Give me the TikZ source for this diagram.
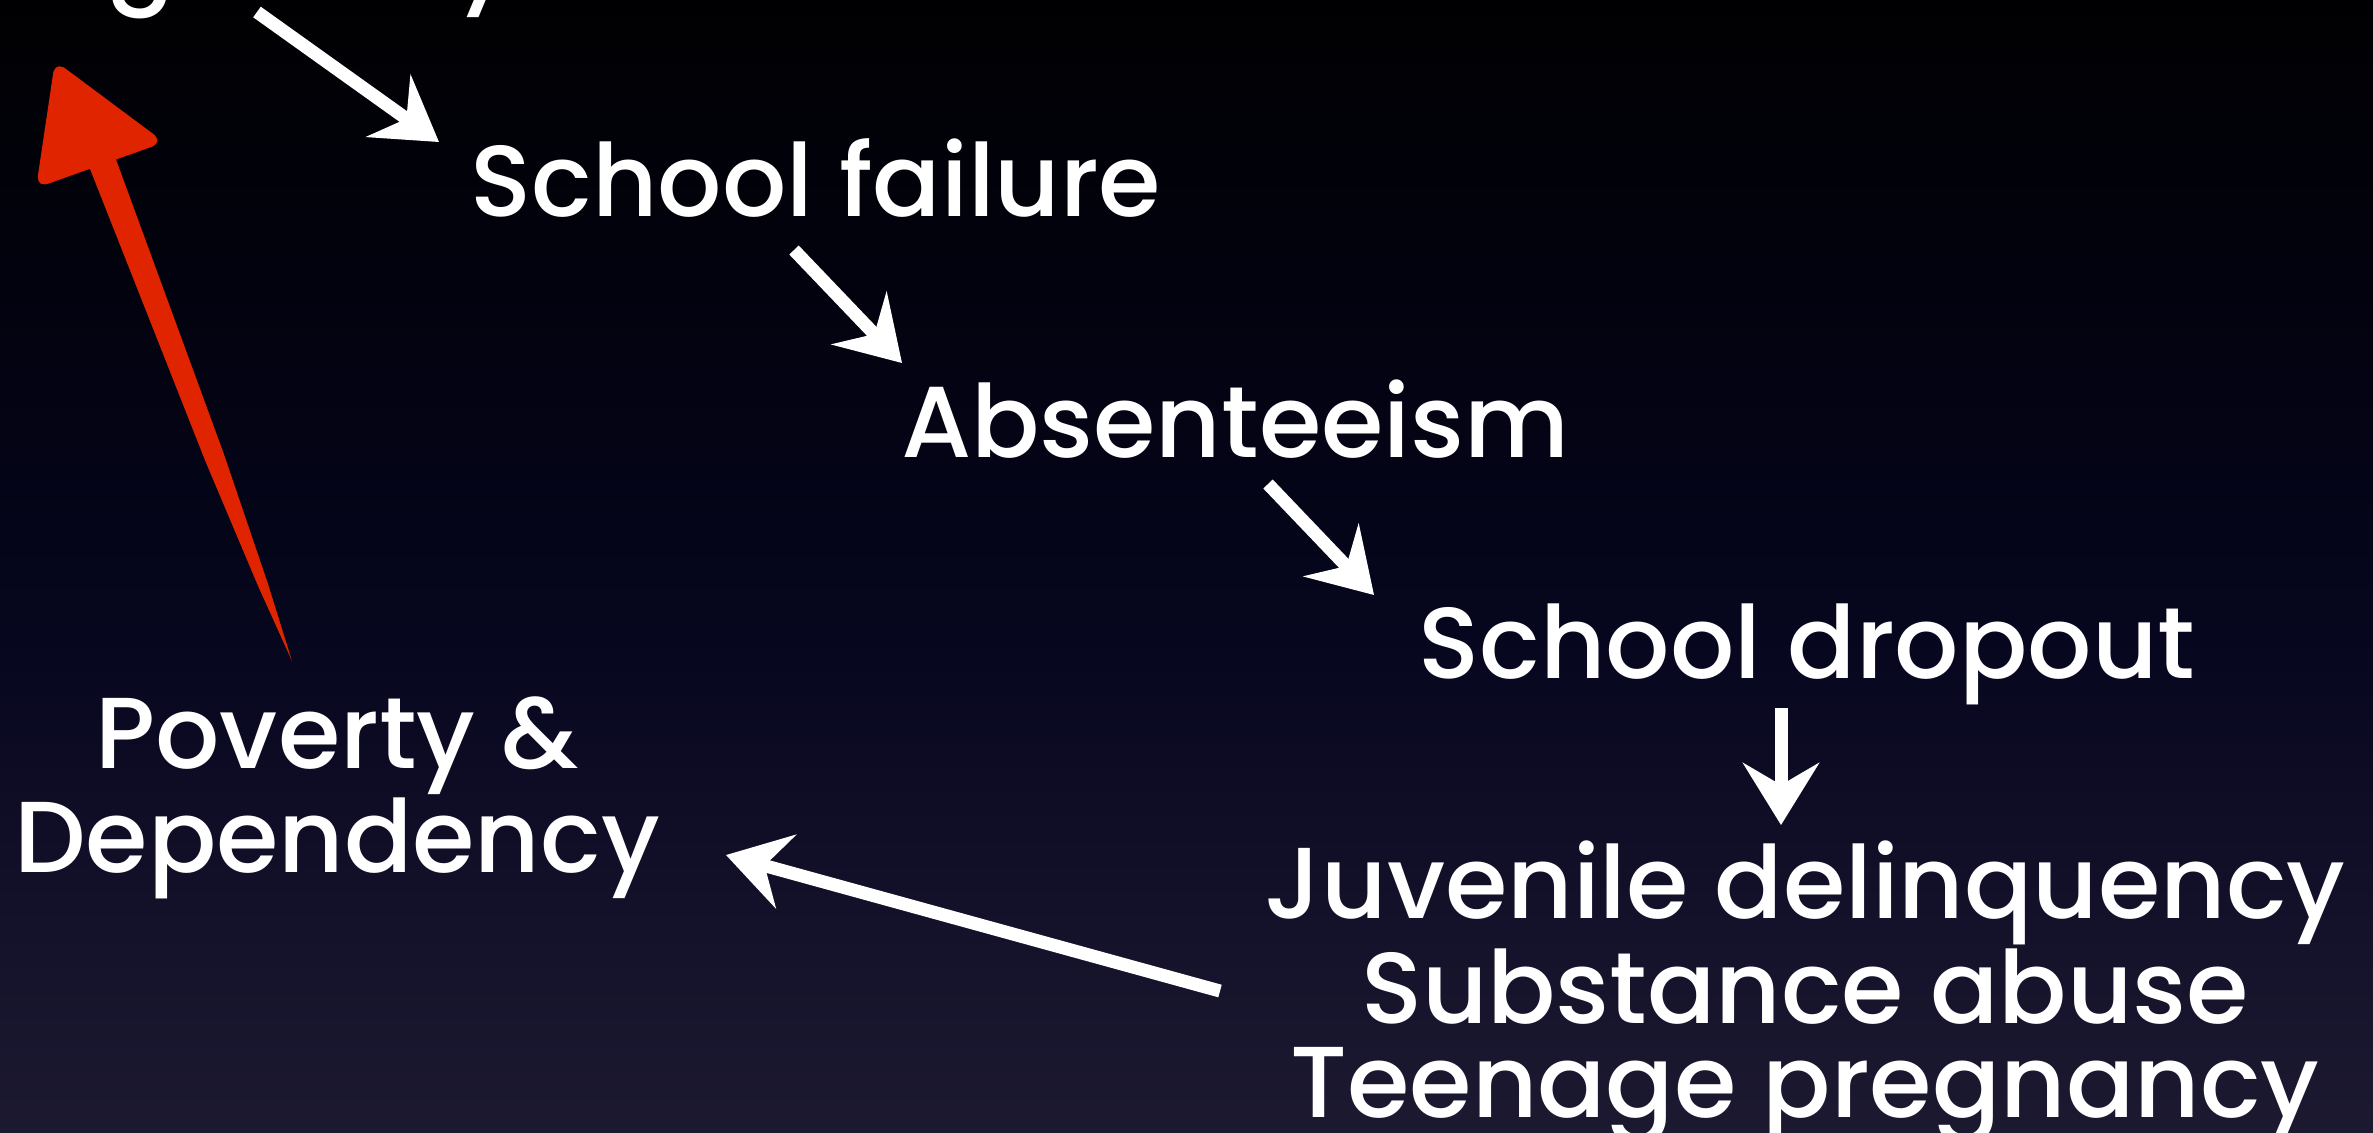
\documentclass[tikz,border=0pt]{standalone}
\usepackage{fontspec}
\setmainfont{Poppins}[UprightFont=* Medium]
\usetikzlibrary{arrows.meta,calc}
\definecolor{chalkred}{RGB}{224,36,0}
\definecolor{bgA}{RGB}{50,46,70}
\definecolor{bgB}{RGB}{32,29,52}
\definecolor{bgC}{RGB}{20,18,42}
\definecolor{bgD}{RGB}{6,6,30}
\definecolor{bgE}{RGB}{2,2,14}
\pgfdeclareverticalshading{slidebg}{100bp}{color(0bp)=(bgA); color(20bp)=(bgB); color(34bp)=(bgC); color(47bp)=(bgD); color(63bp)=(bgE); color(78bp)=(black); color(100bp)=(black)}
\begin{document}
\begin{tikzpicture}[x=0.01cm,y=-0.01cm,
  lbl/.style={text=white, inner sep=0pt, font=\fontsize{28.7}{27}\selectfont, align=center},
  chalk/.style={draw=white, line width=0.13cm, -{Stealth[length=0.62cm,width=0.76cm,inset=0.22cm]}},
  redhead/.style={fill=chalkred, draw=chalkred, line width=0.08cm, line join=round, rounded corners=0.05cm},
]
% slide background
\shade[shading=slidebg] (0,0) rectangle (2373,1132);
\useasboundingbox (0,0) rectangle (2373,1132);
\clip (0,0) rectangle (2373,1132);

% labels
\node[lbl, anchor=base east] (top) at (515,-9) {Poor reading ability};
\node[lbl, anchor=base] (fail) at (816,216) {School failure};
\node[lbl, anchor=base] (abs) at (1235,457) {Absenteeism};
\node[lbl, anchor=base] (drop) at (1807,678) {School dropout};
\node[lbl, anchor=center] (risk) at (1805,993) {Juvenile delinquency\\Substance abuse\\Teenage pregnancy};
\node[lbl, anchor=center] (pov) at (337,798) {Poverty \&\\Dependency};

% chalk arrows along the chain
\draw[chalk] ($(top.base east)+(-258,21)$) -- ($(fail.base)+(-377,-74)$);
\draw[chalk] ($(fail.base)+(-22,34)$) -- ($(abs.base)+(-333,-94)$);
\draw[chalk] ($(abs.base)+(33,27)$) -- ($(drop.base)+(-433,-83)$);
\draw[chalk] ($(drop.base)+(-26,30)$) -- ($(risk.center)+(-24,-168)$);
\draw[chalk] ($(risk.center)+(-585,-2)$) -- ($(pov.center)+(389,57)$);

% red arrow closing the cycle: tapered brush stroke and rounded head
\coordinate (pov-out) at ($(pov.center)+(-45,-137)$);
\fill[chalkred] (pov-out) -- ([shift={(-24.4,-78.3)}]pov-out)
  -- ([shift={(-68.3,-207.5)}]pov-out) -- ([shift={(-180.9,-515)}]pov-out)
  -- ([shift={(-207.1,-505)}]pov-out) -- ([shift={(-86.9,-200.5)}]pov-out)
  -- ([shift={(-33.8,-74.7)}]pov-out) -- cycle;
\path[redhead] ([shift={(-234,-593)}]pov-out) -- ([shift={(-136,-520)}]pov-out)
  -- ([shift={(-251,-479)}]pov-out) -- cycle;
\end{tikzpicture}
\end{document}
